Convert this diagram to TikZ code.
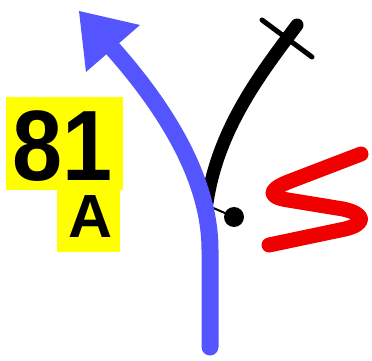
\documentclass[tikz,border=0pt]{standalone}
\usepackage{fontspec}
\setmainfont{Liberation Sans}
\definecolor{arrowblue}{RGB}{85,85,255}
\definecolor{signred}{RGB}{240,0,0}
\definecolor{signyellow}{RGB}{255,255,0}
\begin{document}
\begin{tikzpicture}[x=1pt,y=-1pt,
  bigtxt/.style={inner sep=0pt,anchor=base west,text depth=0pt,font=\bfseries\fontsize{100}{100}\selectfont},
  smalltxt/.style={inner sep=0pt,anchor=base west,text depth=0pt,font=\bfseries\fontsize{61}{61}\selectfont}]
\useasboundingbox (0,0) rectangle (372,361);
% yellow plates
\fill[signyellow] (6,97) rectangle (123,190);
\fill[signyellow] (57,189) rectangle (120,252);
\node[bigtxt] (num) at (12,180) {\scalebox{0.9}[1]{81}};
\node[smalltxt] (let) at (68,237) {A};
% black branch
\coordinate (btop) at (297,25);
\coordinate (bend) at (207,203);
\draw[line width=13pt,line cap=round] (btop) .. controls (262,72) and (218,128) .. (bend);
\draw[line width=5pt,line cap=round] (262,20) -- (312,57);
\node[circle,fill=black,minimum size=20pt,inner sep=0pt] (dot) at (234,217) {};
\coordinate (tstart) at (211,207);
\draw[line width=2pt] (tstart) -- (dot.center);
% blue arrow
\coordinate (bstart) at (210,347);
\coordinate (bneck) at (113,49);
\draw[arrowblue,line width=17pt,line cap=round] (bstart) -- (210,250) .. controls (210,175) and (160,102) .. (bneck);
\fill[arrowblue] (79,11) -- (140,25) -- (86,72) -- cycle;
% red S
\draw[signred,line width=15pt,line cap=round,line join=round]
  (361,154) -- (288,182) .. controls (268,190) and (268,197) .. (288,200)
  -- (343,209) .. controls (366,214) and (366,224) .. (345,229) -- (269,245);
\end{tikzpicture}
\end{document}
